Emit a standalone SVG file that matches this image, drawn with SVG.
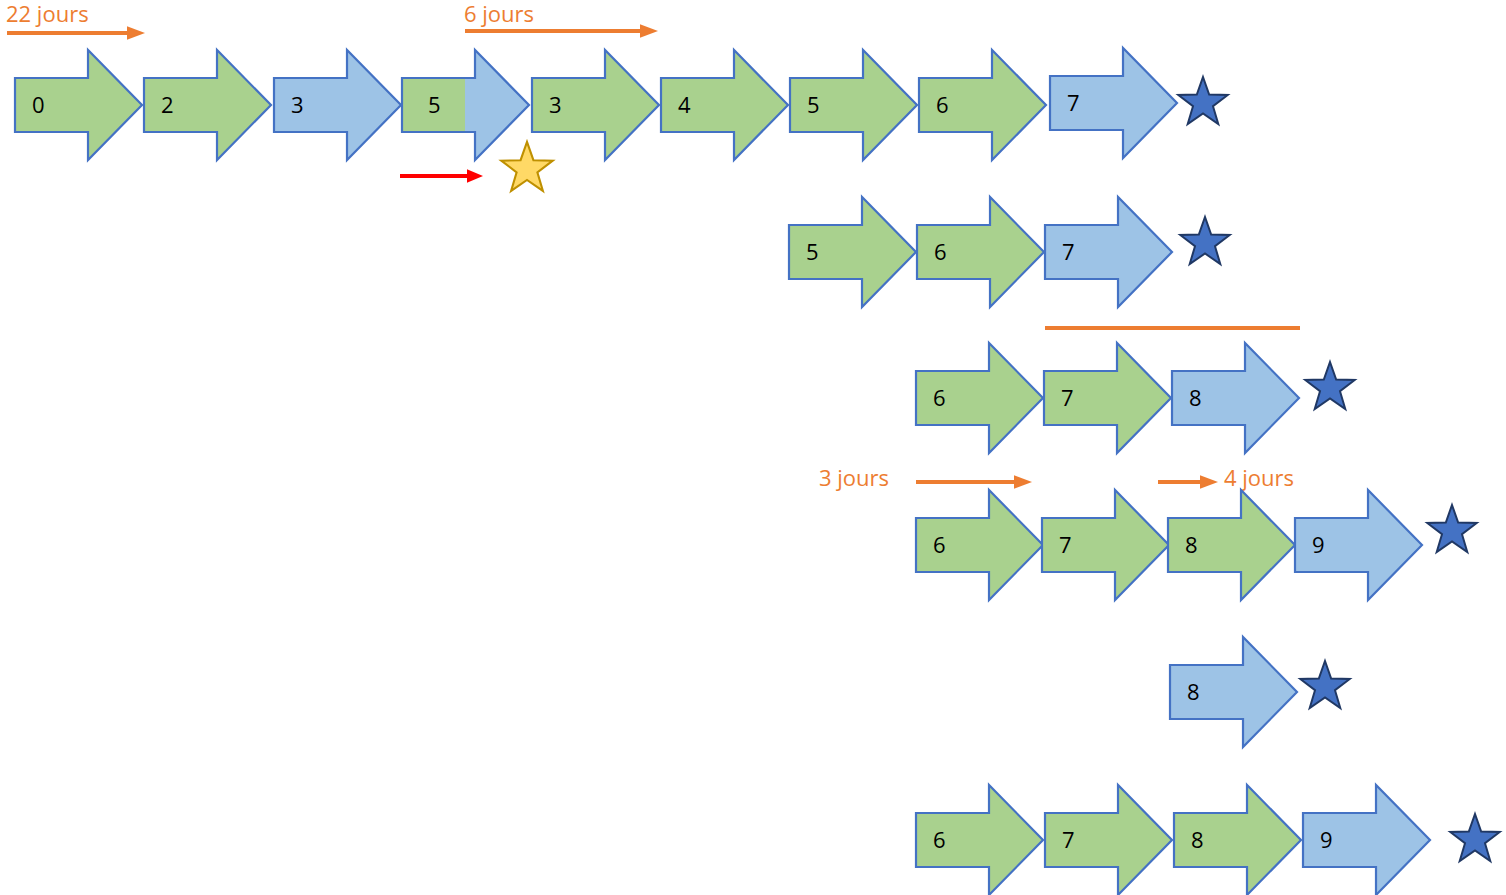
<svg xmlns="http://www.w3.org/2000/svg" xmlns:xlink="http://www.w3.org/1999/xlink" width="1506" height="895" viewBox="0 0 1506 895">
<style>
.g{fill:#A9D18E}
.b{fill:#9DC3E6}
.o{fill:none;stroke:#4472C4;stroke-width:2.2;stroke-linejoin:miter}
.n{font-family:"Open Sans","Noto Sans","Liberation Sans",sans-serif;font-size:22px;fill:#000}
.lbl{font-family:"Open Sans","Noto Sans","Liberation Sans",sans-serif;font-size:22px;fill:#ED7D31}
.st{fill:#4472C4;stroke:#203864;stroke-width:2}
.ys{fill:#FFD966;stroke:#BF9000;stroke-width:2}
.oa{stroke:#ED7D31;stroke-width:4;fill:none}
.ra{stroke:#FF0000;stroke-width:4;fill:none}
</style>
<defs>
<path id="arr" d="M0,-27 H73 V-55 L127,0 L73,55 V27 H0 Z"/>
<polygon id="star" points="0,-26 6.17,-8.49 24.73,-8.03 9.99,3.24 15.28,21.03 0,10.5 -15.28,21.03 -9.99,3.24 -24.73,-8.03 -6.17,-8.49"/>
<marker id="mo" viewBox="0 0 10 10" refX="0" refY="5" markerWidth="4.5" markerHeight="3.4" orient="auto" preserveAspectRatio="none"><path d="M0,0 L10,5 L0,10 Z" fill="#ED7D31"/></marker>
<marker id="mr" viewBox="0 0 10 10" refX="0" refY="5" markerWidth="4" markerHeight="3.4" orient="auto" preserveAspectRatio="none"><path d="M0,0 L10,5 L0,10 Z" fill="#FF0000"/></marker>
</defs>

<g id="labels">
<text class="lbl" x="6" y="22">22 jours</text>
<text class="lbl" x="464" y="22">6 jours</text>
<text class="lbl" x="819" y="486">3 jours</text>
<text class="lbl" x="1224" y="486">4 jours</text>
</g>

<g id="connectors">
<line class="oa" x1="7" y1="33" x2="127" y2="33" marker-end="url(#mo)"/>
<line class="oa" x1="465" y1="31" x2="640" y2="31" marker-end="url(#mo)"/>
<line class="ra" x1="400" y1="176" x2="467" y2="176" marker-end="url(#mr)"/>
<line class="oa" x1="1045" y1="328" x2="1300" y2="328"/>
<line class="oa" x1="916" y1="482" x2="1014" y2="482" marker-end="url(#mo)"/>
<line class="oa" x1="1158" y1="482" x2="1200" y2="482" marker-end="url(#mo)"/>
</g>

<!-- Row 1 -->
<g id="r1-0" transform="translate(15,105)"><use href="#arr" class="g"/><use href="#arr" class="o"/><text class="n" x="17" y="8">0</text></g>
<g id="r1-2" transform="translate(144,105)"><use href="#arr" class="g"/><use href="#arr" class="o"/><text class="n" x="17" y="8">2</text></g>
<g id="r1-3a" transform="translate(274,105)"><use href="#arr" class="b"/><use href="#arr" class="o"/><text class="n" x="17" y="8">3</text></g>
<g id="r1-5split" transform="translate(402,105)"><use href="#arr" class="b"/><rect x="0" y="-27" width="63" height="54" fill="#A9D18E"/><use href="#arr" class="o"/><text class="n" x="26" y="8">5</text></g>
<g id="r1-3b" transform="translate(532,105)"><use href="#arr" class="g"/><use href="#arr" class="o"/><text class="n" x="17" y="8">3</text></g>
<g id="r1-4" transform="translate(661,105)"><use href="#arr" class="g"/><use href="#arr" class="o"/><text class="n" x="17" y="8">4</text></g>
<g id="r1-5" transform="translate(790,105)"><use href="#arr" class="g"/><use href="#arr" class="o"/><text class="n" x="17" y="8">5</text></g>
<g id="r1-6" transform="translate(919,105)"><use href="#arr" class="g"/><use href="#arr" class="o"/><text class="n" x="17" y="8">6</text></g>
<g id="r1-7" transform="translate(1050,103)"><use href="#arr" class="b"/><use href="#arr" class="o"/><text class="n" x="17" y="8">7</text></g>
<g id="r1-star"><use href="#star" class="st" transform="translate(1203,103)"/></g>
<g id="yellow-star"><use href="#star" class="ys" transform="translate(527,169) scale(1.04)"/></g>

<!-- Row 2 -->
<g id="r2-5" transform="translate(789,252)"><use href="#arr" class="g"/><use href="#arr" class="o"/><text class="n" x="17" y="8">5</text></g>
<g id="r2-6" transform="translate(917,252)"><use href="#arr" class="g"/><use href="#arr" class="o"/><text class="n" x="17" y="8">6</text></g>
<g id="r2-7" transform="translate(1045,252)"><use href="#arr" class="b"/><use href="#arr" class="o"/><text class="n" x="17" y="8">7</text></g>
<g id="r2-star"><use href="#star" class="st" transform="translate(1205,243)"/></g>

<!-- Row 3 -->
<g id="r3-6" transform="translate(916,398)"><use href="#arr" class="g"/><use href="#arr" class="o"/><text class="n" x="17" y="8">6</text></g>
<g id="r3-7" transform="translate(1044,398)"><use href="#arr" class="g"/><use href="#arr" class="o"/><text class="n" x="17" y="8">7</text></g>
<g id="r3-8" transform="translate(1172,398)"><use href="#arr" class="b"/><use href="#arr" class="o"/><text class="n" x="17" y="8">8</text></g>
<g id="r3-star"><use href="#star" class="st" transform="translate(1330,388)"/></g>

<!-- Row 4 -->
<g id="r4-6" transform="translate(916,545)"><use href="#arr" class="g"/><use href="#arr" class="o"/><text class="n" x="17" y="8">6</text></g>
<g id="r4-7" transform="translate(1042,545)"><use href="#arr" class="g"/><use href="#arr" class="o"/><text class="n" x="17" y="8">7</text></g>
<g id="r4-8" transform="translate(1168,545)"><use href="#arr" class="g"/><use href="#arr" class="o"/><text class="n" x="17" y="8">8</text></g>
<g id="r4-9" transform="translate(1295,545)"><use href="#arr" class="b"/><use href="#arr" class="o"/><text class="n" x="17" y="8">9</text></g>
<g id="r4-star"><use href="#star" class="st" transform="translate(1452,531)"/></g>

<!-- Row 5 -->
<g id="r5-8" transform="translate(1170,692)"><use href="#arr" class="b"/><use href="#arr" class="o"/><text class="n" x="17" y="8">8</text></g>
<g id="r5-star"><use href="#star" class="st" transform="translate(1325,687)"/></g>

<!-- Row 6 -->
<g id="r6-6" transform="translate(916,840)"><use href="#arr" class="g"/><use href="#arr" class="o"/><text class="n" x="17" y="8">6</text></g>
<g id="r6-7" transform="translate(1045,840)"><use href="#arr" class="g"/><use href="#arr" class="o"/><text class="n" x="17" y="8">7</text></g>
<g id="r6-8" transform="translate(1174,840)"><use href="#arr" class="g"/><use href="#arr" class="o"/><text class="n" x="17" y="8">8</text></g>
<g id="r6-9" transform="translate(1303,840)"><use href="#arr" class="b"/><use href="#arr" class="o"/><text class="n" x="17" y="8">9</text></g>
<g id="r6-star"><use href="#star" class="st" transform="translate(1475,840)"/></g>
</svg>
